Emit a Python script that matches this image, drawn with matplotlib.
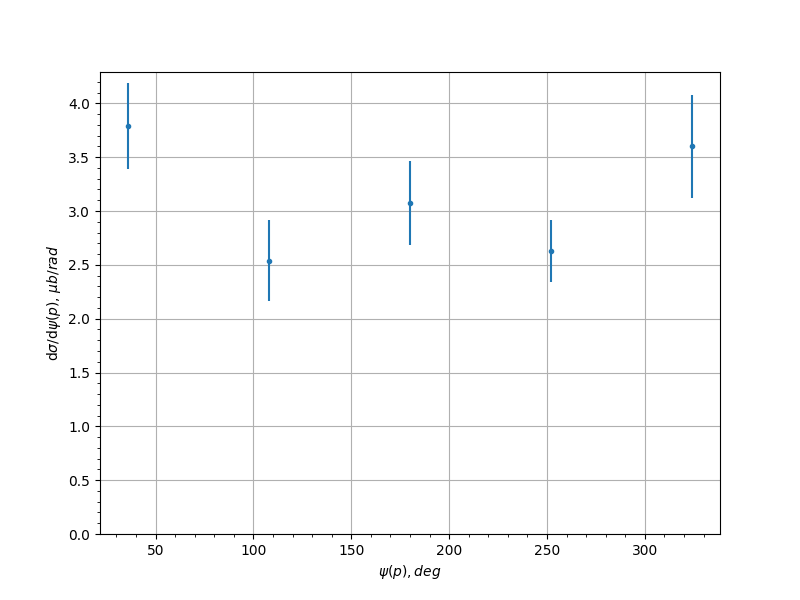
import matplotlib
matplotlib.use("Agg")
import matplotlib.pyplot as plt

# angle bins (deg) and cross section values
psi = [36, 108, 180, 252, 324]
dsigma = [3.79, 2.54, 3.07, 2.63, 3.60]
dsigma_err = [0.40, 0.375, 0.39, 0.29, 0.475]


def main():
    fig, ax = plt.subplots(figsize=(8, 6), dpi=100)
    ax.errorbar(psi, dsigma, yerr=dsigma_err, fmt='.')
    ax.set_ylim(bottom=0)
    ax.set_xlabel(r"$\psi(p), deg$")
    ax.set_ylabel(r"d$\sigma$/d$\psi(p)$, $\mu b/rad$")
    ax.minorticks_on()
    ax.grid()
    fig.savefig("out.png")


if __name__ == "__main__":
    main()
